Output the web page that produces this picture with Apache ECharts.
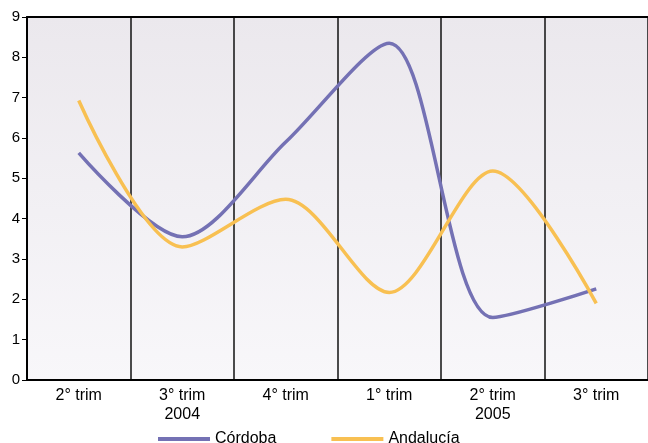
<!DOCTYPE html>
<html><head><meta charset="utf-8">
<script src="https://cdn.jsdelivr.net/npm/echarts@6/dist/echarts.min.js"></script>
<style>html,body{margin:0;padding:0;background:#fff}#c{width:648px;height:443px}</style>
</head><body><div id="c"></div>
<script>
const categories = ['2° trim', '3° trim\n2004', '4° trim', '1° trim', '2° trim\n2005', '3° trim'];
const cordoba = [5.63, 3.55, 5.9, 8.35, 1.55, 2.26];
const andalucia = [6.93, 3.3, 4.48, 2.17, 5.18, 1.9];
const seriesNames = ['Córdoba', 'Andalucía'];

const font = '"Liberation Sans", Arial, Helvetica, sans-serif';
const chart = echarts.init(document.getElementById('c'), null, {renderer: 'canvas'});
chart.setOption({
  animation: false,
  backgroundColor: '#fff',
  grid: {
    left: 27, top: 17, width: 626, height: 363,
    show: true,
    borderWidth: 0,
    backgroundColor: new echarts.graphic.LinearGradient(0, 0, 0, 1, [
      {offset: 0, color: '#ebe8ed'},
      {offset: 1, color: '#f8f7fa'}
    ])
  },
  legend: {
    data: seriesNames,
    left: 153, top: 426,
    itemWidth: 52, itemHeight: 4, itemGap: 55,
    icon: 'rect',
    textStyle: {fontFamily: font, fontSize: 16, color: '#000'}
  },
  xAxis: [{
    type: 'category',
    data: categories,
    boundaryGap: true,
    axisLine: {lineStyle: {color: '#000', width: 2}},
    axisTick: {show: false},
    splitLine: {show: true, lineStyle: {color: '#111', width: 1.5}},
    axisLabel: {fontFamily: font, fontSize: 16, color: '#000', lineHeight: 19, margin: 6}
  }, {
    type: 'category',
    data: categories,
    position: 'top',
    axisLine: {show: true, lineStyle: {color: '#000', width: 2}},
    axisTick: {show: false},
    axisLabel: {show: false},
    splitLine: {show: false}
  }],
  yAxis: {
    type: 'value',
    min: 0, max: 9, interval: 1,
    axisLine: {show: true, lineStyle: {color: '#000', width: 2}},
    axisTick: {show: true, length: 5, lineStyle: {color: '#000', width: 1}},
    splitLine: {show: false},
    axisLabel: {fontFamily: font, fontSize: 15, color: '#000', margin: 7}
  },
  series: [{
    name: seriesNames[0],
    type: 'line',
    data: cordoba,
    smooth: 0.3,
    symbol: 'none',
    lineStyle: {color: '#7471b4', width: 3.5},
    itemStyle: {color: '#7471b4'}
  }, {
    name: seriesNames[1],
    type: 'line',
    data: andalucia,
    smooth: 0.3,
    symbol: 'none',
    lineStyle: {color: '#f8c052', width: 3.5},
    itemStyle: {color: '#f8c052'}
  }]
});
</script></body></html>
